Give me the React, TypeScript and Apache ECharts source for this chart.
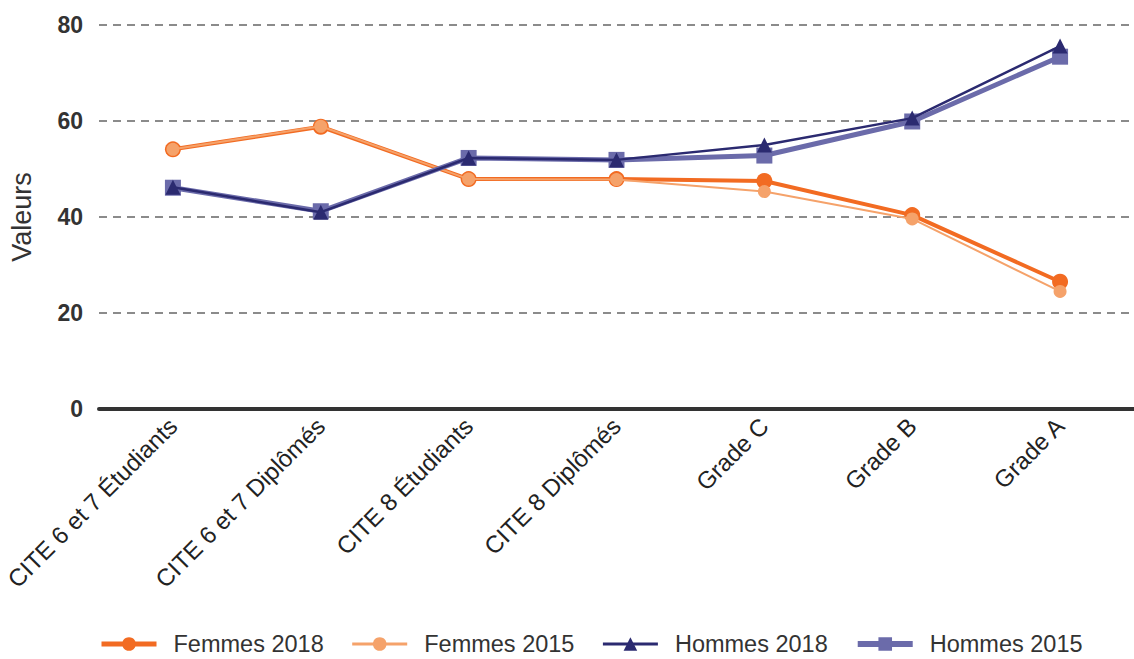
import React, { useEffect, useRef } from "react";
import * as echarts from "echarts";

const categories = [
  "CITE 6 et 7 Étudiants",
  "CITE 6 et 7 Diplômés",
  "CITE 8 Étudiants",
  "CITE 8 Diplômés",
  "Grade C",
  "Grade B",
  "Grade A",
];
const femmes2018 = [54.1, 58.8, 47.9, 47.9, 47.5, 40.4, 26.5];
const femmes2015 = [54.1, 58.9, 47.9, 47.8, 45.3, 39.6, 24.5];
const hommes2018 = [46.2, 41.0, 52.3, 51.9, 55.0, 60.6, 75.6];
const hommes2015 = [46.1, 41.2, 52.3, 51.9, 52.8, 59.9, 73.4];
const yTicks = { min: 0, max: 80, interval: 20 };

const FONT = '"Liberation Sans", Arial, sans-serif';

export default function App() {
  const ref = useRef<HTMLDivElement>(null);
  useEffect(() => {
    if (!ref.current) return;
    const chart = echarts.init(ref.current, undefined, { renderer: "svg" });
    chart.setOption({
      animation: false,
      textStyle: { fontFamily: FONT },
      grid: { left: 98, right: 0, top: 25, bottom: 250, containLabel: false },
      legend: {
        data: [
          { name: "Femmes 2018", lineStyle: { width: 5 } },
          { name: "Femmes 2015", lineStyle: { width: 3 } },
          { name: "Hommes 2018", lineStyle: { width: 3 } },
          { name: "Hommes 2015", lineStyle: { width: 6 } },
        ],
        left: 94,
        top: 627,
        itemWidth: 55,
        itemHeight: 17,
        itemGap: 27,
        textStyle: { fontSize: 23.5, color: "#333", fontFamily: FONT, padding: [0, 0, 0, 12] },
      },
      xAxis: {
        type: "category",
        data: categories,
        boundaryGap: true,
        axisLine: { show: true, lineStyle: { color: "#333", width: 4 } },
        axisTick: { show: false },
        axisLabel: {
          rotate: 45,
          margin: 13,
          fontSize: 24,
          color: "#222",
          fontFamily: FONT,
          interval: 0,
        },
      },
      yAxis: {
        type: "value",
        min: yTicks.min,
        max: yTicks.max,
        interval: yTicks.interval,
        name: "Valeurs",
        nameLocation: "middle",
        nameGap: 64,
        nameTextStyle: { fontSize: 27, color: "#333", fontFamily: FONT },
        axisLine: { show: false },
        axisTick: { show: false },
        axisLabel: { fontSize: 23, fontWeight: "bold", color: "#333", margin: 16, fontFamily: FONT },
        splitLine: { show: true, lineStyle: { color: "#666", width: 1.5, type: [8, 6] } },
      },
      series: [
        {
          name: "Femmes 2018",
          type: "line",
          data: femmes2018,
          symbol: "circle",
          symbolSize: 16,
          color: "#F26B22",
          lineStyle: { width: 4, color: "#F26B22" },
          itemStyle: { color: "#F26B22" },
          z: 2,
        },
        {
          name: "Femmes 2015",
          type: "line",
          data: femmes2015,
          symbol: "circle",
          symbolSize: 13,
          color: "#F5A26A",
          lineStyle: { width: 2, color: "#F5A26A" },
          itemStyle: { color: "#F5A26A" },
          z: 3,
        },
        {
          name: "Hommes 2018",
          type: "line",
          data: hommes2018,
          symbol: "triangle",
          symbolSize: 15,
          color: "#2B2A70",
          lineStyle: { width: 2.5, color: "#2B2A70" },
          itemStyle: { color: "#2B2A70" },
          z: 5,
        },
        {
          name: "Hommes 2015",
          type: "line",
          data: hommes2015,
          symbol: "rect",
          symbolSize: 16,
          color: "#6B6BAA",
          lineStyle: { width: 5, color: "#6B6BAA" },
          itemStyle: { color: "#6B6BAA" },
          z: 4,
        },
      ],
    });
    return () => chart.dispose();
  }, []);
  return <div ref={ref} style={{ width: 1134, height: 659, position: "absolute", left: 0, top: 0 }} />;
}
